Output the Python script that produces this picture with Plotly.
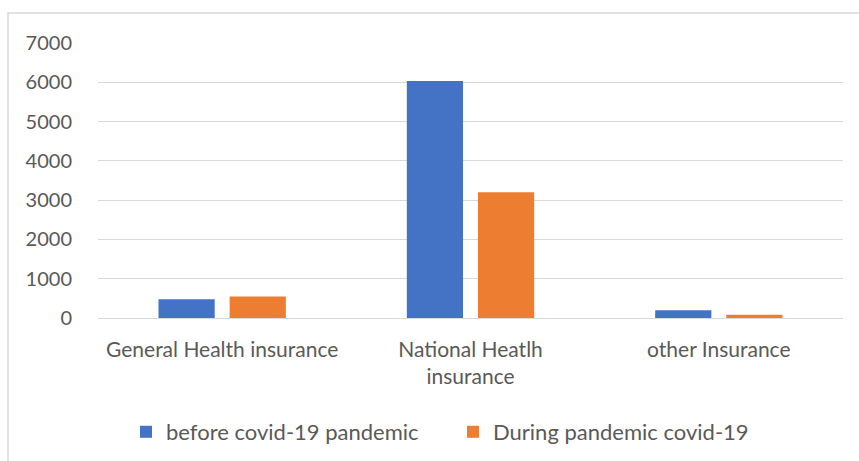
import plotly.graph_objects as go

categories = ["General Health insurance", "National Heatlh<br>insurance", "other Insurance"]
before_covid = [475, 6030, 200]
during_covid = [545, 3200, 80]
series_names = ["before covid-19 pandemic", "During pandemic covid-19"]
y_ticks = [0, 1000, 2000, 3000, 4000, 5000, 6000, 7000]

FONT = "Lato"
GRAY = "#595959"

fig = go.Figure()
fig.add_trace(go.Bar(x=categories, y=before_covid, name=series_names[0],
                     marker=dict(color="#4472C4", line=dict(width=0))))
fig.add_trace(go.Bar(x=categories, y=during_covid, name=series_names[1],
                     marker=dict(color="#ED7D31", line=dict(width=0))))

fig.update_layout(
    width=859, height=461,
    margin=dict(l=98, r=16, t=43, b=143, autoexpand=False),
    paper_bgcolor="white", plot_bgcolor="white",
    barmode="group", bargap=0.427, bargroupgap=0.21,
    font=dict(family=FONT, color=GRAY, size=21),
    showlegend=True,
    legend=dict(orientation="h", x=0.0376, xanchor="left", y=-0.4145, yanchor="middle",
                font=dict(family=FONT, size=22, color=GRAY), itemwidth=30,
                entrywidth=282, traceorder="normal"),
    xaxis=dict(showgrid=False, showline=False, ticks="", ticklabelstandoff=17,
               automargin=False, tickfont=dict(size=21, color=GRAY)),
    yaxis=dict(range=[0, 7000], tickvals=y_ticks, showgrid=True, gridcolor="#d9d9d9",
               gridwidth=1, zeroline=True, zerolinecolor="#d9d9d9", zerolinewidth=1,
               ticks="", ticklabelstandoff=25, automargin=False,
               tickfont=dict(size=20, color=GRAY)),
    shapes=[dict(type="rect", xref="paper", yref="paper", x0=-0.1208, x1=1.03,
                 y0=-0.7, y1=1.109, line=dict(color="#d9d9d9", width=1.5),
                 fillcolor="rgba(0,0,0,0)", layer="below")],
)
fig.write_html("out.html", config={"displayModeBar": False},
               post_script="document.body.style.margin='0';")
